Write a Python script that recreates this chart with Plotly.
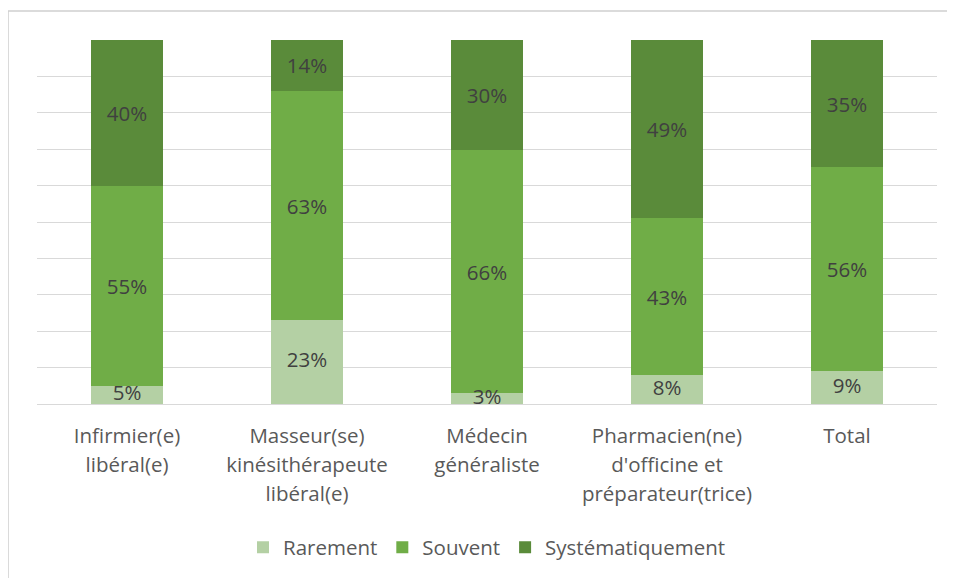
import plotly.graph_objects as go

categories = [
    "Infirmier(e)<br>libéral(e)",
    "Masseur(se)<br>kinésithérapeute<br>libéral(e)",
    "Médecin<br>généraliste",
    "Pharmacien(ne)<br>d'officine et<br>préparateur(trice)",
    "Total",
]
rarement = [5, 23, 3, 8, 9]
souvent = [55, 63, 66, 43, 56]
systematiquement = [40, 14, 30, 49, 35]

series = [
    ("Rarement", rarement, "#b4d0a4"),
    ("Souvent", souvent, "#70ad47"),
    ("Systématiquement", systematiquement, "#5a8b3a"),
]

FONT = "Open Sans, Noto Sans, sans-serif"
TXT = 20.5


def tick_label(cat):
    # wrap each line so the line pitch follows the (bigger) tick font size
    return "<br>".join(f'<span style="font-size:{TXT}px">{ln}</span>'
                       for ln in cat.split("<br>"))


fig = go.Figure()
for name, vals, color in series:
    fig.add_trace(go.Bar(
        x=categories, y=vals, name=name, marker_color=color,
        marker_line_width=0, cliponaxis=False,
        text=[f"{v}%" for v in vals] if name != "Rarement" else None,
        textposition="inside",
        insidetextanchor="middle", textangle=0, constraintext="none",
        textfont=dict(color="#404040", size=TXT, family=FONT),
        hovertemplate="%{x}: %{y:.0f}%<extra>" + name + "</extra>",
    ))

# bottom segment labels as a text trace so the tiny 3% is not squeezed/clipped
totals = [r + s + t for r, s, t in zip(rarement, souvent, systematiquement)]
fig.add_trace(go.Scatter(
    x=categories, y=[r / tot * 50 for r, tot in zip(rarement, totals)],
    mode="text", text=[f"{v}%" for v in rarement], cliponaxis=False,
    textfont=dict(color="#404040", size=TXT, family=FONT),
    showlegend=False, hoverinfo="skip",
))

# page body keeps an 8px margin, so the figure starts at (8, 8)
fig.update_layout(
    barmode="stack", barnorm="percent", bargap=0.6,
    width=947, height=570,
    margin=dict(l=29, r=18, t=32, b=173),
    paper_bgcolor="white", plot_bgcolor="white",
    font=dict(family=FONT, size=TXT, color="#595959"),
    legend=dict(orientation="h", x=0.5, xanchor="center", y=-0.39, yanchor="middle",
                font=dict(size=TXT, color="#595959"), traceorder="normal"),
    shapes=[dict(type="rect", xref="paper", yref="paper",
                 x0=-0.0322, x1=1.2, y0=-0.7, y1=1.0795,
                 line=dict(color="#d0d0d0", width=1.5))],
)
fig.update_xaxes(showline=True, linecolor="#d9d9d9", linewidth=1, ticks="",
                 tickmode="array", tickvals=categories,
                 ticktext=[tick_label(c) for c in categories],
                 ticklabelstandoff=12,
                 tickfont=dict(size=22, color="#595959"))
fig.update_yaxes(range=[0, 100], dtick=10, showticklabels=False,
                 gridcolor="#d9d9d9", gridwidth=1, zeroline=False)

fig.write_html("out.html")
